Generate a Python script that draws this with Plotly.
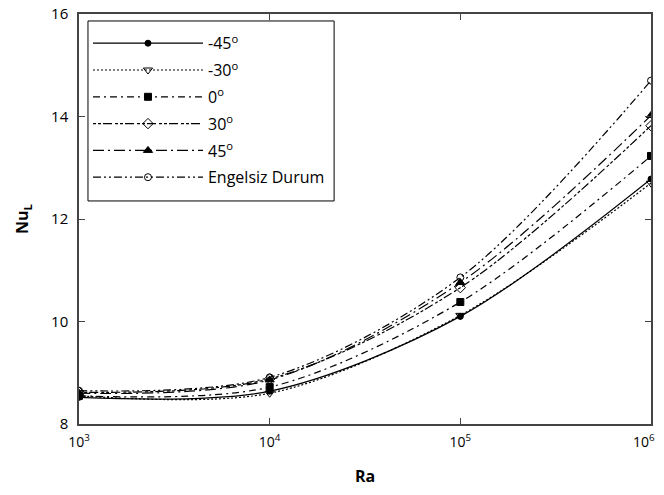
import plotly.graph_objects as go

ra = [1e3, 1e4, 1e5, 1e6]
names = ["-45<sup>o</sup>", "-30<sup>o</sup>", "0<sup>o</sup>", "30<sup>o</sup>", "45<sup>o</sup>", "Engelsiz Durum"]
ra_ticks = ["10<sup>3</sup>", "10<sup>4</sup>", "10<sup>5</sup>", "10<sup>6</sup>&nbsp;&nbsp;&nbsp;&nbsp;"]
nu_m45 = [8.52, 8.64, 10.10, 12.78]
nu_m30 = [8.55, 8.60, 10.12, 12.70]
nu_0 = [8.55, 8.72, 10.38, 13.23]
nu_30 = [8.62, 8.88, 10.66, 13.82]
nu_45 = [8.60, 8.86, 10.76, 14.02]
nu_free = [8.65, 8.91, 10.86, 14.70]
series = [nu_m45, nu_m30, nu_0, nu_30, nu_45, nu_free]

symbols = ["circle", "triangle-down-open", "square", "diamond-open", "triangle-up", "circle-open"]
sizes = [6, 8, 7, 8, 8, 7]
dashes = ["solid", "2px,2px", "7px,4px,2px,4px", "3px,2px,3px,2px,9px,3px",
          "11px,4px,2px,4px", "8px,3px,2px,3px,2px,3px"]

fig = go.Figure()
for i, (nm, ys) in enumerate(zip(names, series)):
    fig.add_trace(go.Scatter(
        x=ra, y=ys, name=nm, mode="lines+markers",
        line=dict(color="black", width=1.2, dash=dashes[i], shape="spline", smoothing=0.9),
        marker=dict(symbol=symbols[i], size=sizes[i], color="black",
                    line=dict(color="black", width=1)),
        legendgroup=str(i),
    ))

axis_common = dict(
    showline=True, linecolor="#444", linewidth=1.5, mirror="ticks",
    ticks="inside", ticklen=6, tickcolor="#444", showgrid=False, zeroline=False,
    automargin=False, ticklabeloverflow="allow",
)
# legend frame drawn as a shape so that its padding matches the reference
fig.add_shape(type="rect", xref="paper", yref="paper",
              x0=0.0157, x1=0.446, y0=0.544, y1=0.983,
              line=dict(color="black", width=1), fillcolor="white", layer="above")

# page body adds an 8px margin, so the figure is kept smaller than the window
fig.update_layout(
    width=656, height=479,
    margin=dict(l=71, r=13, t=6, b=63),
    paper_bgcolor="white", plot_bgcolor="white",
    font=dict(family="Open Sans", color="black"),
    xaxis=dict(type="log", range=[3, 6], tickvals=ra, ticktext=ra_ticks,
               ticklabelstandoff=4, tickfont=dict(family="Open Sans", size=14, color="black"),
               title=dict(text="<b>Ra</b>", font=dict(size=16), standoff=25), **axis_common),
    yaxis=dict(range=[8, 16], tickvals=[8, 10, 12, 14, 16], ticklabelstandoff=6,
               tickfont=dict(family="Open Sans", size=15, color="black"),
               title=dict(text="<b>Nu<sub>L</sub></b>", font=dict(size=16), standoff=18), **axis_common),
    legend=dict(x=0.0157, y=0.97, xanchor="left", yanchor="top",
                borderwidth=0, bgcolor="rgba(0,0,0,0)",
                font=dict(family="Open Sans", size=16, color="black"),
                itemwidth=110, tracegroupgap=3),
    showlegend=True,
)
fig.write_html("out.html")
